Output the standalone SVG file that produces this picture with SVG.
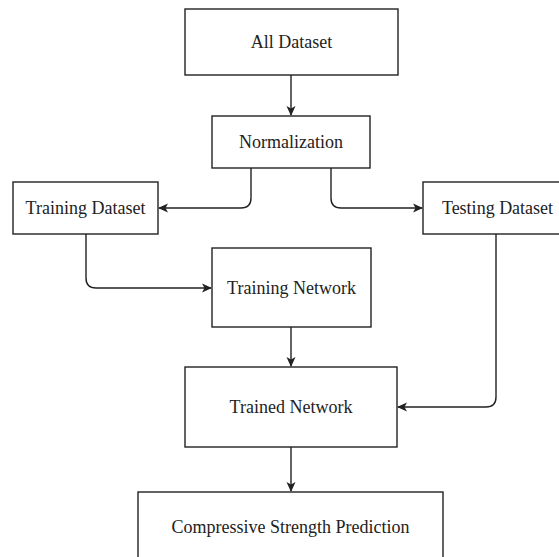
<svg xmlns="http://www.w3.org/2000/svg" width="559" height="557" viewBox="0 0 559 557">
<defs>
<style>
.box{fill:#fff;stroke:#222;stroke-width:1.4}
.lbl{font-family:"Liberation Serif","Times New Roman",serif;font-size:18px;fill:#222;text-anchor:middle;dominant-baseline:central}
.edge{fill:none;stroke:#222;stroke-width:1.4}
</style>
<marker id="arr" viewBox="0 0 10 10" refX="9" refY="5" markerWidth="10" markerHeight="10" markerUnits="userSpaceOnUse" orient="auto">
<path d="M0,0.5 L10,5 L0,9.5 L2.5,5 Z" fill="#222"/>
</marker>
</defs>
<rect width="559" height="557" fill="#fff"/>
<g id="connectors">
<path class="edge" d="M291,75 V115" marker-end="url(#arr)"/>
<path class="edge" d="M251,168 V198 Q251,208 241,208 H159" marker-end="url(#arr)"/>
<path class="edge" d="M331,168 V198 Q331,208 341,208 H422" marker-end="url(#arr)"/>
<path class="edge" d="M86,234 V278 Q86,288 96,288 H211" marker-end="url(#arr)"/>
<path class="edge" d="M291,327 V366" marker-end="url(#arr)"/>
<path class="edge" d="M496,234 V397 Q496,407 486,407 H398" marker-end="url(#arr)"/>
<path class="edge" d="M291,447 V491" marker-end="url(#arr)"/>
</g>
<g id="all-dataset"><rect class="box" x="185" y="9" width="213" height="66"/><text class="lbl" x="291.5" y="42">All Dataset</text></g>
<g id="normalization"><rect class="box" x="212" y="116" width="158" height="52"/><text class="lbl" x="291" y="142">Normalization</text></g>
<g id="training-dataset"><rect class="box" x="13" y="182" width="145" height="52"/><text class="lbl" x="85.5" y="208">Training Dataset</text></g>
<g id="testing-dataset"><rect class="box" x="423" y="182" width="149" height="52"/><text class="lbl" x="497.5" y="208">Testing Dataset</text></g>
<g id="training-network"><rect class="box" x="212" y="248" width="159" height="79"/><text class="lbl" x="291.5" y="287.5">Training Network</text></g>
<g id="trained-network"><rect class="box" x="185" y="367" width="212" height="80"/><text class="lbl" x="291" y="407">Trained Network</text></g>
<g id="prediction"><rect class="box" x="138" y="492" width="305" height="72"/><text class="lbl" x="290.5" y="527">Compressive Strength Prediction</text></g>
</svg>
